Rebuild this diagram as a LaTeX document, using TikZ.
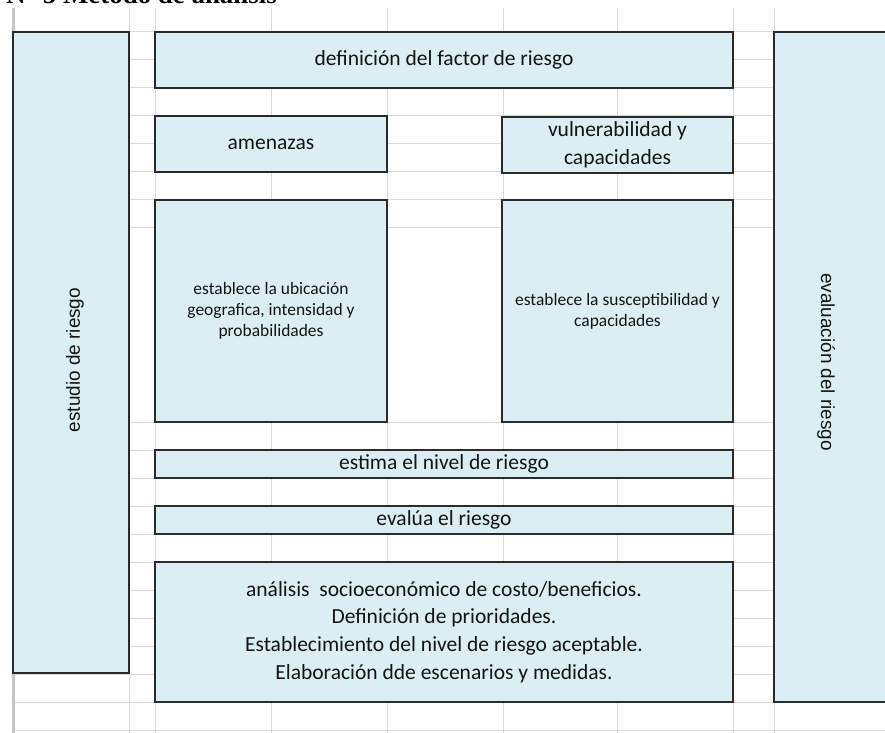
\documentclass[tikz,border=0pt]{standalone}
\usepackage{fontspec}
\setmainfont{Carlito}
\newfontfamily\arialf{Liberation Sans}
\newfontfamily\timesf{Liberation Serif}
\definecolor{gridgray}{HTML}{D9D9D9}
\definecolor{headgray}{HTML}{C6C6C6}
\definecolor{boxline}{HTML}{2B2B2B}
\definecolor{boxfill}{HTML}{DAEEF3}
\definecolor{txt}{HTML}{141414}
\tikzset{
  gridline/.style={draw=gridgray, line width=1bp},
  headline/.style={draw=headgray, line width=3bp},
  box/.style={draw=boxline, fill=boxfill, line width=1.4bp, inner sep=2bp, text=txt, align=center},
  bigtext/.style={font=\fontsize{21.6}{27.8}\selectfont},
  smalltext/.style={font=\fontsize{17.5}{21}\selectfont},
  sidetext/.style={font=\arialf\fontsize{19}{22}\selectfont, text=txt, inner sep=0pt},
}
\begin{document}
\begin{tikzpicture}[x=1bp,y=-1bp]
\useasboundingbox (0,0) rectangle (885,733);
\clip (0,0) rectangle (885,733);
\fill[white] (0,0) rectangle (885,733);
% spreadsheet grid
\foreach \k in {0,...,7,14,15,...,25}{
  \draw[gridline] (13,{32+27.92*\k}) -- (885,{32+27.92*\k});
}
\foreach \xx in {129,155,271,387,503,617,733,774}{
  \draw[gridline] (\xx,8) -- (\xx,733);
}
\draw[headline] (13,8) -- (13,733);
% title (cut off at the top, as in the reference)
\node[anchor=base east, font=\timesf\bfseries\fontsize{27}{30}\selectfont, inner sep=0pt, text=black] (title) at (277,4) {N° 5 Método de análisis};
% side boxes
\node[box, minimum width=116bp, minimum height=641bp] (estudio) at (71,352.5) {};
\node[sidetext, rotate=90] (estudiotxt) at (75,360) {estudio de riesgo};
\node[box, minimum width=116bp, minimum height=670bp] (evaluacion) at (832,367) {};
\node[sidetext, rotate=-90] (evaluaciontxt) at (826,362) {evaluación del riesgo};
% central boxes
\node[box, bigtext, minimum width=578bp, minimum height=56bp] (factor) at (444,60) {definición del factor de riesgo};
\node[box, bigtext, minimum width=232bp, minimum height=56bp] (amenazas) at (271,144) {\raisebox{-3bp}{amenazas}};
\node[box, bigtext, minimum width=231bp, minimum height=56bp] (vulner) at (617.5,145) {vulnerabilidad y\\capacidades};
\node[box, smalltext, minimum width=232bp, minimum height=222bp] (ubic) at (271,311) {establece la ubicación\\geografica, intensidad y\\probabilidades};
\node[box, smalltext, minimum width=231bp, minimum height=222bp] (suscep) at (617.5,311) {establece la susceptibilidad y\\capacidades};
\node[box, bigtext, minimum width=578bp, minimum height=28bp, inner sep=0pt] (estima) at (444,464) {estima el nivel de riesgo};
\node[box, bigtext, minimum width=578bp, minimum height=28bp, inner sep=0pt] (evalua) at (444,520) {evalúa el riesgo};
\node[box, bigtext, minimum width=578bp, minimum height=140bp] (analisis) at (444,632) {\raisebox{-1.5bp}{\parbox{570bp}{\centering análisis\ \ socioeconómico de costo/beneficios.\\Definición de prioridades.\\Establecimiento del nivel de riesgo aceptable.\\Elaboración dde escenarios y medidas.}}};
\end{tikzpicture}
\end{document}
